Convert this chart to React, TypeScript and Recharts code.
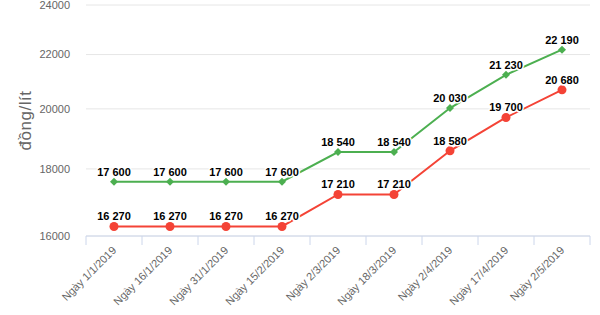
import { LineChart, Line, XAxis, YAxis, CartesianGrid, LabelList } from "recharts";

const CATEGORIES = [
  "Ngày 1/1/2019",
  "Ngày 16/1/2019",
  "Ngày 31/1/2019",
  "Ngày 15/2/2019",
  "Ngày 2/3/2019",
  "Ngày 18/3/2019",
  "Ngày 2/4/2019",
  "Ngày 17/4/2019",
  "Ngày 2/5/2019",
];
const RON95 = [17600, 17600, 17600, 17600, 18540, 18540, 20030, 21230, 22190];
const E5 = [16270, 16270, 16270, 16270, 17210, 17210, 18580, 19700, 20680];
const Y_TICKS = [16000, 18000, 20000, 22000, 24000];

const GREEN = "#4caf50";
const RED = "#f44336";
const FONT = "'Liberation Sans', Arial, Helvetica, sans-serif";

const data = CATEGORIES.map((name, i) => ({ i, name, ron95: RON95[i], e5: E5[i] }));

// tick lines between categories, rotated labels at category centres
const X_TICKS: number[] = [];
for (let k = 0; k <= CATEGORIES.length * 2; k++) X_TICKS.push(-0.5 + k * 0.5);

function fmt(v: number): string {
  return String(v).replace(/\B(?=(\d{3})+(?!\d))/g, " ");
}

function XTick({ x, y, payload }: any) {
  const v = payload.value;
  if (!Number.isInteger(v)) {
    return <line x1={x} x2={x} y1={y} y2={y + 9} stroke="#ccd6eb" strokeWidth={1} />;
  }
  return (
    <text
      transform={`translate(${x + 3},${y + 15}) rotate(-45)`}
      textAnchor="end"
      fontSize={11}
      fontFamily={FONT}
      fill="#666666"
    >
      {CATEGORIES[v]}
    </text>
  );
}

function YLabel({ viewBox }: any) {
  const cx = viewBox.x + 25;
  const cy = viewBox.y + viewBox.height / 2;
  return (
    <text
      x={cx}
      y={cy}
      transform={`rotate(-90 ${cx} ${cy})`}
      textAnchor="middle"
      dominantBaseline="central"
      fontSize={17}
      letterSpacing={0.5}
      fontFamily={FONT}
      fill="#666666"
    >
      đồng/lít
    </text>
  );
}

function ValueLabel({ x, y, value }: any) {
  return (
    <text
      x={x}
      y={y - 6}
      textAnchor="middle"
      fontSize={11}
      fontWeight="bold"
      fontFamily={FONT}
      fill="#000000"
      stroke="#ffffff"
      strokeWidth={3}
      strokeLinejoin="round"
      style={{ paintOrder: "stroke" }}
    >
      {fmt(value)}
    </text>
  );
}

function Diamond({ cx, cy, index }: any) {
  const r = 4;
  return (
    <path
      key={`d-${index}`}
      d={`M${cx},${cy - r}L${cx + r},${cy}L${cx},${cy + r}L${cx - r},${cy}Z`}
      fill={GREEN}
    />
  );
}

function Circle({ cx, cy, index }: any) {
  return <circle key={`c-${index}`} cx={cx} cy={cy} r={4.5} fill={RED} />;
}

export default function App() {
  return (
    <div style={{ position: "absolute", left: 0, top: 0, width: 600, height: 315, background: "#fff" }}>
      <LineChart width={600} height={315} data={data} margin={{ top: 5, right: 10, left: 0, bottom: 0 }}>
        <CartesianGrid vertical={false} stroke="#e6e6e6" />
        <XAxis
          dataKey="i"
          type="number"
          domain={[-0.5, CATEGORIES.length - 0.5]}
          ticks={X_TICKS}
          interval={0}
          height={79}
          tickSize={0}
          tickMargin={0}
          tickLine={false}
          axisLine={{ stroke: "#ccd6eb" }}
          tick={<XTick />}
        />
        <YAxis
          scale="log"
          domain={[16000, 24000]}
          ticks={Y_TICKS}
          interval={0}
          allowDataOverflow
          width={86}
          axisLine={false}
          tickLine={false}
          tickSize={0}
          tickMargin={16}
          tick={{ fontSize: 11, fill: "#666666", fontFamily: FONT }}
          label={<YLabel />}
        />
        <Line
          type="linear"
          dataKey="e5"
          stroke={RED}
          strokeWidth={2}
          dot={(p: any) => <Circle key={`c-${p.index}`} {...p} />}
          activeDot={false}
          isAnimationActive={false}
        >
          <LabelList dataKey="e5" content={<ValueLabel />} />
        </Line>
        <Line
          type="linear"
          dataKey="ron95"
          stroke={GREEN}
          strokeWidth={2}
          dot={(p: any) => <Diamond key={`d-${p.index}`} {...p} />}
          activeDot={false}
          isAnimationActive={false}
        >
          <LabelList dataKey="ron95" content={<ValueLabel />} />
        </Line>
      </LineChart>
    </div>
  );
}
